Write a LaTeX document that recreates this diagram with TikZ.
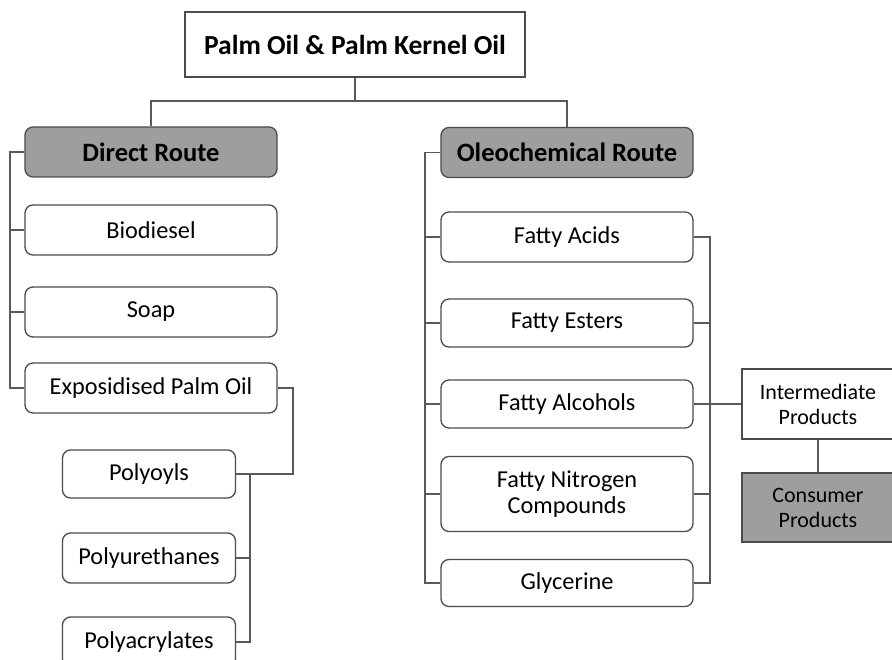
\documentclass[tikz,border=0pt]{standalone}
\usepackage{fontspec}
\setmainfont{Carlito}
\begin{document}
\begin{tikzpicture}[x=1pt,y=-1pt,
  box/.style={draw=black!70, line width=1.3pt, fill=white, text=black,
    inner sep=0pt, align=center, font=\fontsize{24.3}{26}\selectfont},
  rbox/.style={box, rounded corners=8pt},
  hbox/.style={rbox, fill=black!38, font=\bfseries\fontsize{26.5}{28}\selectfont},
  sbox/.style={box, font=\fontsize{22}{25}\selectfont},
  link/.style={draw=black!65, line width=1.2pt}]
\useasboundingbox (0,0) rectangle (892,660);
\clip (0,0) rectangle (892,660);
\fill[white] (0,0) rectangle (892,660);

% root
\node[box, minimum width=340pt, minimum height=65pt, font=\bfseries\fontsize{27.5}{29}\selectfont] (top) at (355,44.5) {Palm Oil \& Palm Kernel Oil};

% route headers
\node[hbox, minimum width=252pt, minimum height=50pt] (direct) at (151,152) {Direct Route};
\node[hbox, minimum width=252pt, minimum height=50pt] (oleo) at (567,152.5) {Oleochemical Route};

% direct route products
\node[rbox, minimum width=252pt, minimum height=50pt] (bio) at (151,230) {Biodiesel};
\node[rbox, minimum width=252pt, minimum height=50pt] (soap) at (151,312) {Soap};
\node[rbox, minimum width=252pt, minimum height=50pt] (epo) at (151,388) {Exposidised Palm Oil};
\node[rbox, minimum width=173pt, minimum height=48pt] (polyol) at (149,474) {Polyoyls};
\node[rbox, minimum width=173pt, minimum height=50pt] (polyu) at (149,558) {Polyurethanes};
\node[rbox, minimum width=173pt, minimum height=50pt] (polya) at (149,642) {Polyacrylates};

% oleochemical route products
\node[rbox, minimum width=252pt, minimum height=50pt] (facid) at (567,237) {Fatty Acids};
\node[rbox, minimum width=252pt, minimum height=48pt] (fester) at (567,323) {Fatty Esters};
\node[rbox, minimum width=252pt, minimum height=48pt] (falc) at (567,404) {Fatty Alcohols};
\node[rbox, minimum width=252pt, minimum height=75pt] (fnit) at (567,494) {Fatty Nitrogen\\Compounds};
\node[rbox, minimum width=252pt, minimum height=47pt] (glyc) at (567,583) {Glycerine};

% downstream products
\node[sbox, minimum width=152pt, minimum height=70pt] (inter) at (818,404) {Intermediate\\Products};
\node[sbox, fill=black!38, minimum width=152pt, minimum height=69pt] (cons) at (818,507.5) {Consumer\\Products};

% trunk positions
\coordinate (bus) at (0,101);
\coordinate (ltrunk) at (10,0);
\coordinate (etrunk) at (293,0);
\coordinate (ptrunk) at (250,0);
\coordinate (otrunk) at (425,0);
\coordinate (rtrunk) at (710,0);

% root to routes
\draw[link] (top.south) -- (top.south |- bus) -| (direct.north);
\draw[link] (top.south |- bus) -| (oleo.north);

% direct route tree
\draw[link] (direct.west) -- (direct.west -| ltrunk) -- (epo.west -| ltrunk) -- (epo.west);
\draw[link] (bio.west) -- (bio.west -| ltrunk);
\draw[link] (soap.west) -- (soap.west -| ltrunk);
\draw[link] (epo.east) -- (epo.east -| etrunk) -- (polyol.east -| etrunk) -- (polyol.east);
\draw[link] (polyol.east -| ptrunk) -- (polya.east -| ptrunk) -- (polya.east);
\draw[link] (polyu.east) -- (polyu.east -| ptrunk);

% oleochemical route tree
\draw[link] (oleo.west) -- (oleo.west -| otrunk) -- (glyc.west -| otrunk) -- (glyc.west);
\draw[link] (facid.west) -- (facid.west -| otrunk);
\draw[link] (fester.west) -- (fester.west -| otrunk);
\draw[link] (falc.west) -- (falc.west -| otrunk);
\draw[link] (fnit.west) -- (fnit.west -| otrunk);

% collection into intermediate products
\draw[link] (facid.east) -- (facid.east -| rtrunk) -- (glyc.east -| rtrunk) -- (glyc.east);
\draw[link] (fester.east) -- (fester.east -| rtrunk);
\draw[link] (fnit.east) -- (fnit.east -| rtrunk);
\draw[link] (falc.east) -- (inter.west);
\draw[link] (inter.south) -- (cons.north);
\end{tikzpicture}
\end{document}
